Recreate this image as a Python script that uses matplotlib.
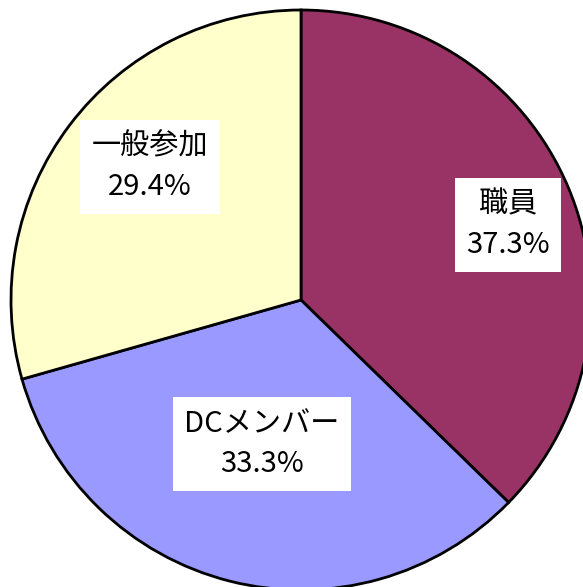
import matplotlib
matplotlib.use("Agg")
import matplotlib.pyplot as plt

plt.rcParams['font.family'] = ['Noto Sans CJK JP', 'DejaVu Sans']

categories = ["職員", "DCメンバー", "一般参加"]
values = [37.3, 33.3, 29.4]
colors = ["#993366", "#9999FF", "#FFFFCC"]
label_pos = [(508, 362), (262, 143), (150, 420)]

W, H = 583, 587
fig = plt.figure(figsize=(W / 100, H / 100), dpi=100)
ax = fig.add_axes([0, 0, 1, 1])
ax.pie(values, colors=colors, startangle=90, counterclock=False,
       center=(301, 287), radius=290,
       wedgeprops=dict(edgecolor="black", linewidth=2))
ax.set_xlim(0, W)
ax.set_ylim(0, H)
ax.set_aspect('equal')
ax.axis('off')

for cat, val, (x, y) in zip(categories, values, label_pos):
    ax.text(x, y, f"{cat}\n{val:.1f}%", ha="center", va="center",
            fontsize=21, linespacing=1.45, color="black",
            bbox=dict(boxstyle="square,pad=0.4", facecolor="white", edgecolor="none"))

fig.savefig("out.png", dpi=100)
